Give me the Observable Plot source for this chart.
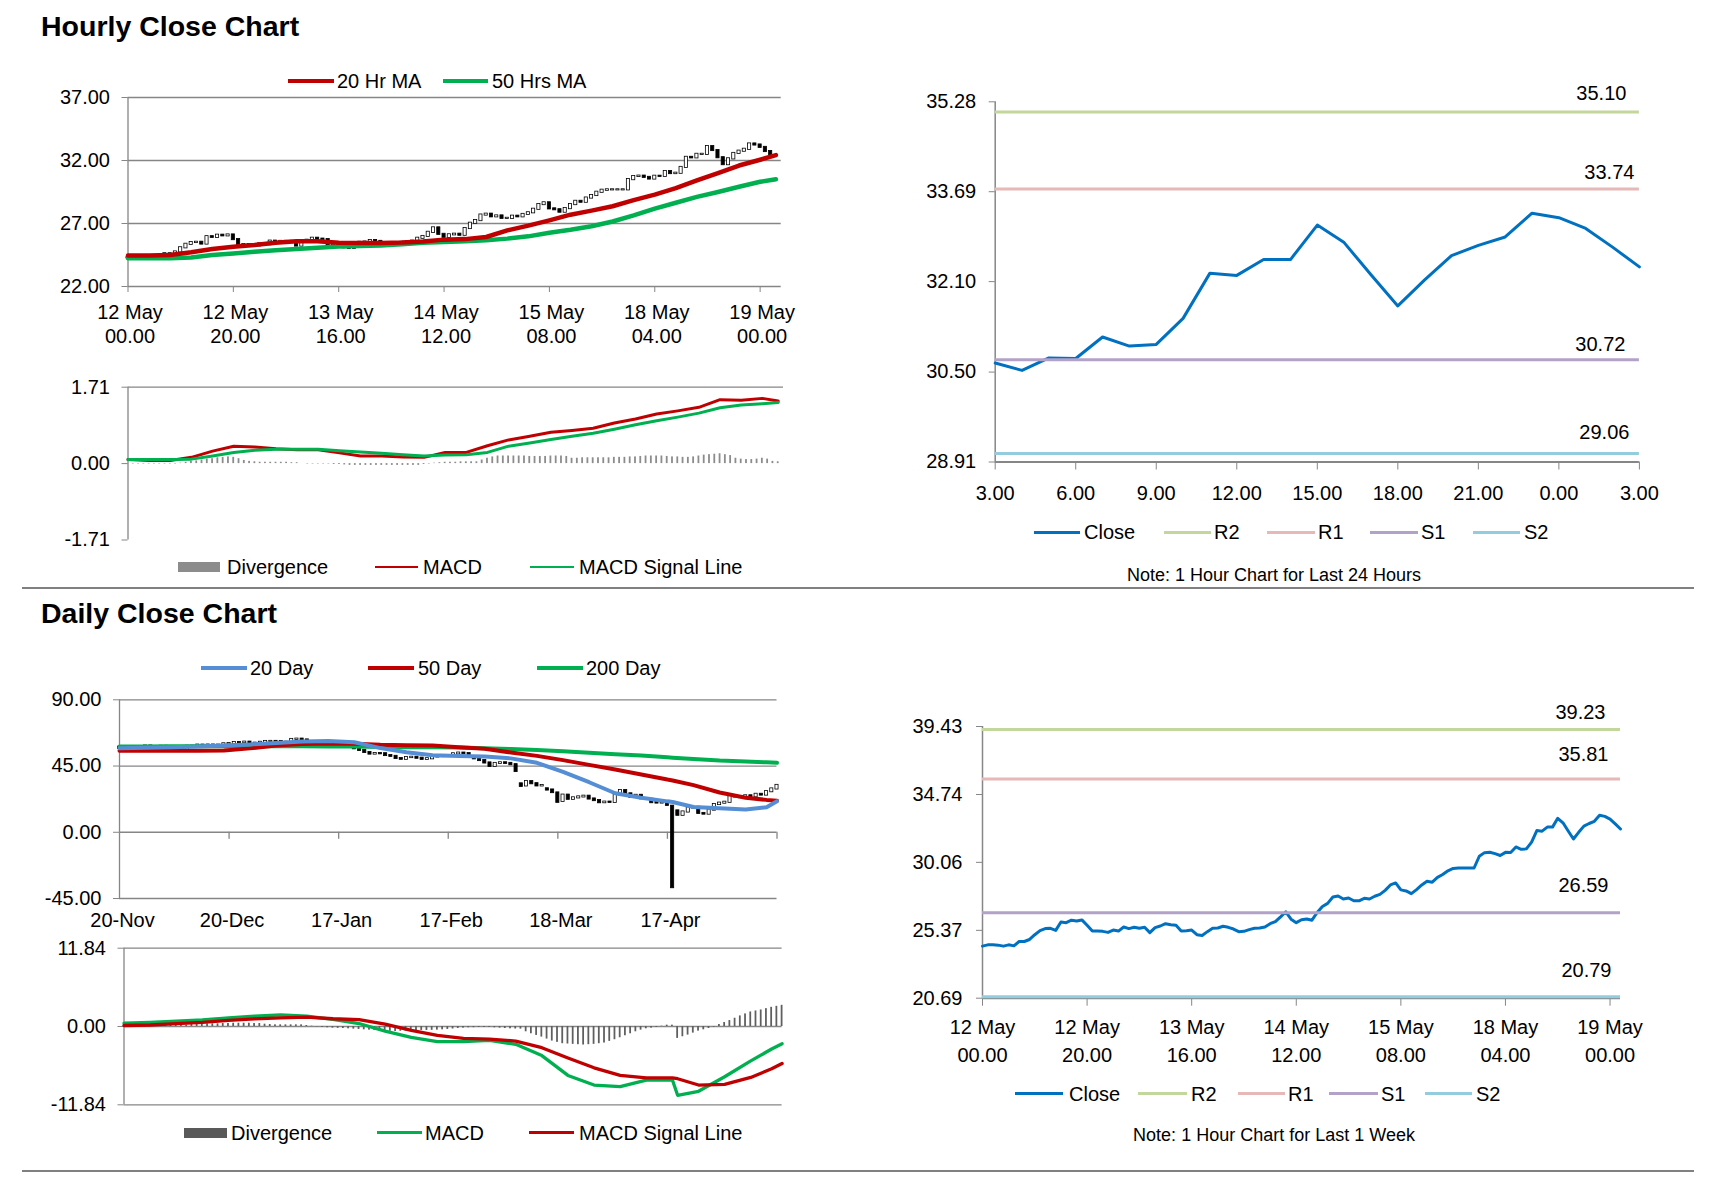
<!DOCTYPE html>
<html>
<head>
<meta charset="utf-8">
<script src="https://cdn.jsdelivr.net/npm/d3@7"></script>
<script src="https://cdn.jsdelivr.net/npm/@observablehq/plot@0.6"></script>
<style>
html,body{margin:0;padding:0;background:#fff;}
#root{position:relative;width:1711px;height:1178px;overflow:hidden;font-family:"Liberation Sans",Arial,Helvetica,sans-serif;color:#000;background:#fff;}
.t{position:absolute;white-space:nowrap;}
</style>
</head>
<body>
<div id="root"></div>
<script>
// ================= DATA =================
// Hourly closes, 12 May 00.00 .. 19 May 02.00 (one value per trading hour)
const weekClose = [
24.28,24.37,24.37,24.35,24.28,24.37,24.30,24.60,24.60,24.74,
25.07,25.35,25.49,25.51,25.37,25.95,25.90,26.07,26.02,26.09,
25.72,25.32,25.32,25.30,25.23,25.39,25.32,25.60,25.49,25.58,
25.51,25.58,25.21,25.56,25.67,25.83,25.76,25.72,25.32,25.35,
25.39,25.07,25.02,25.28,25.51,25.53,25.65,25.58,25.46,25.28,
25.30,25.42,25.51,25.53,25.60,25.83,25.97,26.30,26.65,26.14,
25.90,26.10,26.15,26.07,26.60,27.02,27.23,27.67,27.74,27.53,
27.60,27.41,27.41,27.58,27.53,27.72,27.85,28.13,28.50,28.64,
28.16,28.09,27.90,28.18,28.50,28.76,28.69,29.02,29.22,29.48,
29.64,29.67,29.67,29.67,29.67,30.48,30.73,30.76,30.66,30.53,
30.75,30.74,31.12,30.96,30.99,31.45,32.25,32.21,32.49,32.49,
33.10,32.79,32.22,31.67,32.13,32.56,32.74,32.89,33.31,33.23,
33.04,32.71,32.36];

// Hourly moving averages and MACD, read at these hour indices
const maIdx  = [0,4,8,12,16,20,24,28,32,36,40,44,48,52,56,60,64,68,72,76,80,84,88,92,96,100,104,108,112,116,120,123];
const ma20h  = [24.46,24.46,24.50,24.72,24.98,25.16,25.30,25.48,25.59,25.59,25.47,25.46,25.46,25.50,25.58,25.72,25.76,25.93,26.45,26.83,27.25,27.70,28.02,28.37,28.85,29.29,29.80,30.42,31.00,31.60,32.06,32.43];
const ma50h  = [24.24,24.24,24.24,24.30,24.50,24.62,24.76,24.88,24.98,25.08,25.18,25.21,25.25,25.35,25.47,25.53,25.60,25.68,25.80,25.98,26.27,26.50,26.78,27.16,27.64,28.18,28.65,29.11,29.50,29.92,30.31,30.51];
const macdH  = [0.09,0.07,0.07,0.14,0.28,0.39,0.37,0.33,0.31,0.31,0.24,0.17,0.17,0.15,0.14,0.25,0.25,0.40,0.53,0.61,0.70,0.74,0.79,0.91,1.00,1.11,1.18,1.26,1.43,1.42,1.46,1.40];
const signalH= [0.09,0.09,0.09,0.10,0.17,0.25,0.30,0.32,0.32,0.32,0.29,0.26,0.23,0.20,0.17,0.19,0.20,0.25,0.39,0.46,0.54,0.61,0.68,0.77,0.87,0.96,1.04,1.13,1.25,1.31,1.34,1.37];
// Hourly MACD divergence, one bar per hour
const divH = [
-0.01,-0.01,-0.01,-0.01,-0.01,-0.01,-0.01,-0.01,-0.01,-0.01,
0.01,0.03,0.05,0.06,0.08,0.10,0.11,0.13,0.14,0.15,
0.14,0.11,0.07,0.05,0.04,0.03,0.03,0.03,0.03,0.03,
0.03,0.02,0.02,0.00,-0.01,-0.01,-0.01,-0.01,-0.01,-0.02,
-0.02,-0.03,-0.04,-0.04,-0.04,-0.04,-0.04,-0.04,-0.04,-0.04,
-0.04,-0.04,-0.04,-0.04,-0.04,-0.04,-0.02,-0.01,0.01,0.02,
0.03,0.03,0.03,0.04,0.04,0.04,0.04,0.08,0.12,0.15,
0.17,0.17,0.17,0.17,0.17,0.17,0.16,0.16,0.16,0.16,
0.17,0.17,0.17,0.16,0.12,0.12,0.13,0.13,0.13,0.13,
0.13,0.13,0.14,0.14,0.14,0.15,0.15,0.16,0.17,0.17,
0.17,0.17,0.16,0.15,0.15,0.14,0.14,0.15,0.17,0.19,
0.20,0.21,0.22,0.20,0.18,0.12,0.10,0.09,0.09,0.10,
0.12,0.10,0.05,0.04];

const hourTickIdx  = [0,20,40,60,80,100,120];
const hourTickDay  = ["12 May","12 May","13 May","14 May","15 May","18 May","19 May"];
const hourTickTime = ["00.00","20.00","16.00","12.00","08.00","04.00","00.00"];
const hourPriceTicks = [22,27,32,37];
const hourMacdTicks  = [-1.71,0,1.71];

// Last 24 hours
const close24 = [30.66,30.53,30.75,30.74,31.12,30.96,30.99,31.45,32.25,32.21,32.49,32.49,33.10,32.79,32.22,31.67,32.13,32.56,32.74,32.89,33.31,33.23,33.04,32.71,32.36];
const h24TickIdx = [0,3,6,9,12,15,18,21,24];
const h24TickLabels = ["3.00","6.00","9.00","12.00","15.00","18.00","21.00","0.00","3.00"];
const h24Ticks = [28.91,30.50,32.10,33.69,35.28];
const levelNames = ["R2","R1","S1","S2"];
const levels24   = [35.10,33.74,30.72,29.06];
const levelsWeek = [39.23,35.81,26.59,20.79];
const weekTicks  = [20.69,25.37,30.06,34.74,39.43];

// Daily candles
const dOpen = [
57.00,57.77,57.72,56.05,55.21,57.11,58.58,57.77,58.01,58.41,58.11,
55.17,55.96,56.10,58.43,58.43,59.20,59.02,59.24,58.76,59.18,60.07,60.21,60.94,60.93,61.22,60.44,60.52,61.11,61.68,61.72,61.68,
61.06,61.18,63.05,63.27,62.70,59.61,59.56,59.04,58.08,58.23,57.81,58.52,58.54,58.34,56.74,55.59,54.19,53.14,53.48,53.33,52.14,
51.56,50.11,49.61,50.75,50.95,50.32,49.57,49.94,51.17,51.42,52.05,52.05,53.29,53.78,53.38,51.43,49.90,48.73,47.09,
44.76,46.75,47.18,46.78,45.90,32.87,31.50,34.36,32.98,31.50,29.50,28.70,26.70,21.00,25.22,22.43,23.36,24.01,24.49,22.60,21.51,20.09,
20.48,20.31,25.32,28.34,26.08,23.63,25.09,22.76,22.41,20.11,19.87,19.87,17.70,14.50,11.57,13.78,16.50,16.94,12.78,12.34,15.06,
18.84,19.78,20.39,24.56,23.99,23.55,24.74,24.14,25.78,25.29,27.56,29.43];
const dClose = [
57.77,57.72,56.05,55.21,57.11,58.58,57.77,58.01,58.41,58.11,55.17,
55.96,56.10,58.43,58.43,59.20,59.02,59.24,58.76,59.18,60.07,60.21,60.94,60.93,61.22,60.44,60.52,61.11,61.68,61.72,61.68,61.06,
61.18,63.05,63.27,62.70,59.61,59.56,59.04,58.08,58.23,57.81,58.52,58.54,58.34,56.74,55.59,54.19,53.14,53.48,53.33,52.14,51.56,
50.11,49.61,50.75,50.95,50.32,49.57,49.94,51.17,51.42,52.05,52.05,53.29,53.78,53.38,51.43,49.90,48.73,47.09,44.76,
46.75,47.18,46.78,45.90,41.28,31.13,34.36,32.98,31.50,31.73,28.70,26.95,20.37,25.22,22.43,23.36,24.01,24.49,22.60,21.51,20.09,20.48,
20.31,25.32,28.34,26.08,23.63,25.09,22.76,22.41,20.11,19.87,19.87,18.27,-37.63,11.57,13.78,16.50,16.94,12.78,12.34,15.06,18.84,
19.78,20.39,24.56,23.99,23.55,24.74,24.14,25.78,25.29,27.56,29.43,31.82];

// Daily moving averages and MACD, read at these day indices
const dIdx   = [0,5,10,15,20,25,30,35,40,45,50,55,60,65,70,75,80,85,90,95,100,105,106,110,115,120,124,126];
const ma20d  = [57.0,57.4,57.8,58.3,59.0,59.7,60.6,61.6,62.0,61.2,57.2,54.4,52.4,51.9,51.5,50.2,47.2,41.0,34.0,26.5,23.5,21.0,20.6,17.2,16.3,15.5,17.0,21.0];
const ma50d  = [55.3,55.3,55.3,55.3,55.5,57.0,59.0,60.0,60.3,60.2,59.5,59.2,59.0,57.8,56.8,54.2,51.9,49.0,45.8,42.6,39.3,35.8,35.2,32.0,27.0,23.5,22.0,21.5];
const ma200d = [58.2,58.3,58.4,58.5,58.5,58.5,58.5,58.4,58.3,58.2,58.0,57.8,57.7,57.6,57.0,56.5,55.9,55.0,54.0,53.0,52.1,50.9,50.7,49.8,48.7,48.0,47.5,47.2];
const macdD  = [0.51,0.62,0.80,0.98,1.30,1.55,1.75,1.55,1.07,0.45,-0.70,-1.65,-2.28,-2.30,-2.10,-2.70,-4.40,-7.40,-8.85,-9.10,-8.10,-8.10,-10.40,-9.80,-7.60,-5.20,-3.40,-2.60];
const signalD= [0.15,0.23,0.45,0.62,0.92,1.14,1.30,1.43,1.17,1.05,0.35,-0.57,-1.33,-1.80,-1.90,-2.20,-3.20,-4.75,-6.25,-7.40,-7.76,-7.76,-7.90,-8.85,-8.75,-7.70,-6.40,-5.60];
const divD = [
0.15,0.15,0.15,0.15,0.15,0.15,0.15,0.15,0.15,0.15,
0.15,0.15,0.20,0.30,0.35,0.40,0.40,0.40,0.40,0.45,
0.45,0.50,0.50,0.50,0.50,0.45,0.45,0.35,0.30,0.25,
0.25,0.25,0.25,0.25,0.25,0.15,0.05,-0.05,-0.15,-0.20,
-0.25,-0.28,-0.30,-0.35,-0.40,-0.45,-0.50,-0.55,-0.60,-0.65,
-0.70,-0.72,-0.75,-0.72,-0.70,-0.65,-0.60,-0.60,-0.60,-0.58,
-0.55,-0.50,-0.45,-0.38,-0.30,-0.25,-0.20,-0.18,-0.15,-0.15,
-0.15,-0.20,-0.25,-0.30,-0.35,-0.38,-0.40,-0.80,-1.10,-1.35,
-1.60,-1.90,-2.20,-2.40,-2.60,-2.65,-2.70,-2.75,-2.80,-2.75,
-2.70,-2.60,-2.50,-2.25,-2.00,-1.70,-1.40,-1.10,-0.80,-0.55,
-0.35,-0.25,-0.15,0.05,0.20,0.20,-1.80,-1.55,-1.30,-1.00,
-0.70,-0.50,-0.30,-0.10,0.30,0.60,0.90,1.25,1.60,1.90,
2.20,2.35,2.50,2.70,2.90,3.05,3.20];

const dayTickIdx   = [21,42,63,84,105,126];
const dayLabelIdx  = [0,21,42,63,84,105];
const dayLabels    = ["20-Nov","20-Dec","17-Jan","17-Feb","18-Mar","17-Apr"];
const dayPriceTicks = [-45,0,45,90];
const dayMacdTicks  = [-11.84,0,11.84];

// ================= STYLE =================
const root = document.getElementById("root");
const FONT = '"Liberation Sans", Arial, Helvetica, sans-serif';
const GRID = "#868686";
const RED = "#c00000", GREEN = "#00b050", BLUE20 = "#558ed5", CLOSEC = "#0070c0";
const LVC = {R2: "#c3d69b", R1: "#e6b9b8", S1: "#b3a2c7", S2: "#93cddd"};

function put(el, left, top) {
  el.style.position = "absolute"; el.style.left = left + "px"; el.style.top = top + "px";
  root.appendChild(el); return el;
}
const st = () => ({fontFamily: FONT, fontSize: "20px", color: "#000", background: "transparent", overflow: "visible"});
const rows = (xs, ys) => xs.map((x, k) => ({x, y: ys[k]}));
const gridRule = {stroke: GRID, strokeWidth: 1.3};
const yAxis = (ticks, pad) => Plot.axisY({ticks, tickSize: 6, tickPadding: pad, stroke: GRID, label: null, tickFormat: d => d.toFixed(2)});
const xTicks = (ticks, size) => Plot.axisX({ticks, tickSize: size, stroke: GRID, label: null, tickFormat: () => ""});

function candles(data, hw) {
  const up = data.filter(d => d.c >= d.o), dn = data.filter(d => d.c < d.o);
  const base = {x1: d => d.i - hw, x2: d => d.i + hw, y1: d => d.o, y2: d => d.c,
                stroke: "black", strokeWidth: 0.8, insetTop: -0.6, insetBottom: -0.6};
  return [Plot.rect(up, {...base, fill: "white"}), Plot.rect(dn, {...base, fill: "black"})];
}
function levelMarks(values, xEnd, dys, dxs) {
  const m = [];
  values.forEach((v, k) => {
    m.push(Plot.ruleY([v], {stroke: LVC[levelNames[k]], strokeWidth: 3}));
    m.push(Plot.text([v], {x: () => xEnd, y: d => d, text: d => d.toFixed(2), textAnchor: "end", dx: dxs[k], dy: dys[k]}));
  });
  return m;
}

// ---------- Panel A: hourly price ----------
const hourCandles = weekClose.map((c, i) => ({i, o: i > 0 ? weekClose[i - 1] : c, c}));
put(Plot.plot({
  width: 800, height: 275, marginLeft: 127.5, marginRight: 19.3, marginTop: 12, marginBottom: 74,
  x: {domain: [0, 124], axis: null}, y: {domain: [22, 37], axis: null}, style: st(),
  marks: [
    Plot.ruleY(hourPriceTicks, gridRule),
    Plot.ruleX([0], gridRule),
    yAxis(hourPriceTicks, 12),
    xTicks(hourTickIdx, 6),
    ...candles(hourCandles, 0.3),
    Plot.line(rows(maIdx, ma50h), {x: "x", y: "y", stroke: GREEN, strokeWidth: 4.5}),
    Plot.line(rows(maIdx, ma20h), {x: "x", y: "y", stroke: RED, strokeWidth: 4.5}),
    Plot.text(hourTickIdx, {x: d => d, frameAnchor: "bottom", dy: 32.3, dx: 2, text: (d, i) => hourTickDay[i]}),
    Plot.text(hourTickIdx, {x: d => d, frameAnchor: "bottom", dy: 56.8, dx: 2, text: (d, i) => hourTickTime[i]})
  ]
}), 0, 85);

// ---------- Panel B: hourly MACD ----------
put(Plot.plot({
  width: 800, height: 175, marginLeft: 127.5, marginRight: 17, marginTop: 11.7, marginBottom: 10.5,
  x: {domain: [0, 124], axis: null}, y: {domain: [-1.71, 1.71], axis: null}, style: st(),
  marks: [
    Plot.ruleY([1.71], gridRule),
    Plot.ruleX([0], gridRule),
    yAxis(hourMacdTicks, 12),
    Plot.rect(divH.map((v, i) => ({i, v})), {x1: d => d.i - 0.17, x2: d => d.i + 0.17, y1: () => 0, y2: d => d.v, fill: "#8c8c8c"}),
    Plot.line(rows(maIdx, macdH), {x: "x", y: "y", stroke: RED, strokeWidth: 3}),
    Plot.line(rows(maIdx, signalH), {x: "x", y: "y", stroke: GREEN, strokeWidth: 3})
  ]
}), 0, 375);

// ---------- Panel C: last 24 hours ----------
put(Plot.plot({
  width: 831, height: 450, marginLeft: 114.7, marginRight: 72.1, marginTop: 31.3, marginBottom: 58.5,
  x: {domain: [0, 24], axis: null}, y: {domain: [28.91, 35.28], axis: null}, style: st(),
  marks: [
    Plot.ruleX([0], {stroke: GRID, strokeWidth: 1.5}),
    yAxis(h24Ticks, 13),
    Plot.ruleY([28.91], {stroke: GRID, strokeWidth: 2}),
    xTicks(h24TickIdx, 8),
    Plot.line(close24.map((v, i) => ({x: i, y: v})), {x: "x", y: "y", stroke: CLOSEC, strokeWidth: 3}),
    ...levelMarks(levels24, 24, [-18, -16, -15, -21], [-13, -5, -14, -10]),
    Plot.text(h24TickIdx, {x: d => d, frameAnchor: "bottom", dy: 37.9, text: (d, i) => h24TickLabels[i]})
  ]
}), 880, 70);

// ---------- Panel D: daily price ----------
const dayCandles = dClose.map((c, i) => ({i, o: dOpen[i], c}));
put(Plot.plot({
  width: 800, height: 250, marginLeft: 119, marginRight: 23.5, marginTop: 9.3, marginBottom: 42,
  x: {domain: [0, 126], axis: null}, y: {domain: [-45, 90], axis: null}, style: st(),
  marks: [
    Plot.ruleY(dayPriceTicks, gridRule),
    Plot.ruleX([0], gridRule),
    yAxis(dayPriceTicks, 12),
    Plot.ruleX(dayTickIdx, {x: d => d, y1: () => 0, y2: () => -4.8, stroke: GRID, strokeWidth: 1.3}),
    ...candles(dayCandles, 0.3),
    Plot.line(rows(dIdx, ma200d), {x: "x", y: "y", stroke: GREEN, strokeWidth: 4}),
    Plot.line(rows(dIdx, ma50d), {x: "x", y: "y", stroke: RED, strokeWidth: 4}),
    Plot.line(rows(dIdx, ma20d), {x: "x", y: "y", stroke: BLUE20, strokeWidth: 4}),
    Plot.text(dayLabelIdx, {x: d => d, frameAnchor: "bottom", dy: 28.5, dx: 3, text: (d, i) => dayLabels[i]})
  ]
}), 0, 690);

// ---------- Panel E: daily MACD ----------
put(Plot.plot({
  width: 800, height: 180, marginLeft: 123.5, marginRight: 18.4, marginTop: 12.7, marginBottom: 10.7,
  x: {domain: [0, 126], axis: null}, y: {domain: [-11.84, 11.84], axis: null}, style: st(),
  marks: [
    Plot.ruleY(dayMacdTicks, gridRule),
    Plot.ruleX([0], gridRule),
    yAxis(dayMacdTicks, 12),
    Plot.rect(divD.map((v, i) => ({i, v})), {x1: d => d.i - 0.17, x2: d => d.i + 0.17, y1: () => 0, y2: d => d.v, fill: "#5f5f5f"}),
    Plot.line(rows(dIdx, macdD), {x: "x", y: "y", stroke: GREEN, strokeWidth: 3.3}),
    Plot.line(rows(dIdx, signalD), {x: "x", y: "y", stroke: RED, strokeWidth: 3.3})
  ]
}), 0, 935);

// ---------- Panel F: last week hourly close ----------
put(Plot.plot({
  width: 831, height: 380, marginLeft: 102, marginRight: 91, marginTop: 26, marginBottom: 82.3,
  x: {domain: [0, 122], axis: null}, y: {domain: [20.69, 39.43], axis: null}, style: st(),
  marks: [
    Plot.ruleX([0], {stroke: GRID, strokeWidth: 1.5}),
    yAxis(weekTicks, 14),
    Plot.ruleY([20.69], {stroke: GRID, strokeWidth: 2}),
    xTicks(hourTickIdx, 8),
    Plot.line(weekClose.map((v, i) => ({x: i, y: v})), {x: "x", y: "y", stroke: CLOSEC, strokeWidth: 3}),
    ...levelMarks(levelsWeek, 122, [-17, -24, -27, -26], [-15, -12, -12, -9]),
    Plot.text(hourTickIdx, {x: d => d, frameAnchor: "bottom", dy: 35.8, text: (d, i) => hourTickDay[i]}),
    Plot.text(hourTickIdx, {x: d => d, frameAnchor: "bottom", dy: 63.8, text: (d, i) => hourTickTime[i]})
  ]
}), 880, 700);

// ================= HTML TEXT: titles, legends, notes =================
function text(str, left, top, size, extra) {
  const d = document.createElement("div");
  d.className = "t"; d.textContent = str;
  d.style.cssText += `left:${left}px;top:${top}px;font-size:${size}px;line-height:${size}px;` + (extra || "");
  root.appendChild(d); return d;
}
function box(left, top, w, h, color) {
  const d = document.createElement("div");
  d.style.cssText = `position:absolute;left:${left}px;top:${top}px;width:${w}px;height:${h}px;background:${color}`;
  root.appendChild(d);
}
// legend: labels/colors per series; layout gives [swatchLeft, swatchWidth, textLeft]
function legend(labels, colors, layout, y, thick) {
  labels.forEach((lab, k) => {
    const [sx, sw, tx] = layout[k];
    const h = Array.isArray(thick) ? thick[k] : thick;
    box(sx, y - h / 2, sw, h, colors[k]);
    text(lab, tx, y - 10, 20);
  });
}

text("Hourly Close Chart", 41, 12, 28.5, "font-weight:bold;");
text("Daily Close Chart", 41, 599, 28.5, "font-weight:bold;");

legend(["20 Hr MA", "50 Hrs MA"], [RED, GREEN], [[288, 46, 337], [443, 45, 492]], 81, 4.5);
legend(["Divergence", "MACD", "MACD Signal Line"], ["#8c8c8c", RED, GREEN],
       [[178, 42, 227], [375, 43, 423], [530, 44, 579]], 567, [10, 2.5, 2.5]);
legend(["Close", ...levelNames], [CLOSEC, LVC.R2, LVC.R1, LVC.S1, LVC.S2],
       [[1034, 46, 1084], [1164, 47, 1214], [1267, 48, 1318], [1370, 48, 1421], [1473, 47, 1524]], 532, 3);
legend(["20 Day", "50 Day", "200 Day"], [BLUE20, RED, GREEN],
       [[201, 46, 250], [368, 46, 418], [537, 46, 586]], 668, 4);
legend(["Divergence", "MACD", "MACD Signal Line"], ["#595959", GREEN, RED],
       [[184, 43, 231], [377, 45, 425], [529, 45, 579]], 1132.5, [10, 2.5, 2.5]);
legend(["Close", ...levelNames], [CLOSEC, LVC.R2, LVC.R1, LVC.S1, LVC.S2],
       [[1015, 48, 1069], [1138, 49, 1191], [1238, 47, 1288], [1329, 49, 1381], [1425, 47, 1476]], 1093.6, 3);

text("Note: 1 Hour Chart for Last 24 Hours", 1274, 565.5, 18, "transform:translateX(-50%);");
text("Note: 1 Hour Chart for Last 1 Week", 1274, 1125.5, 18, "transform:translateX(-50%);");

box(22, 587, 1672, 2, "#808080");
box(22, 1170, 1672, 2, "#808080");
</script>
</body>
</html>
